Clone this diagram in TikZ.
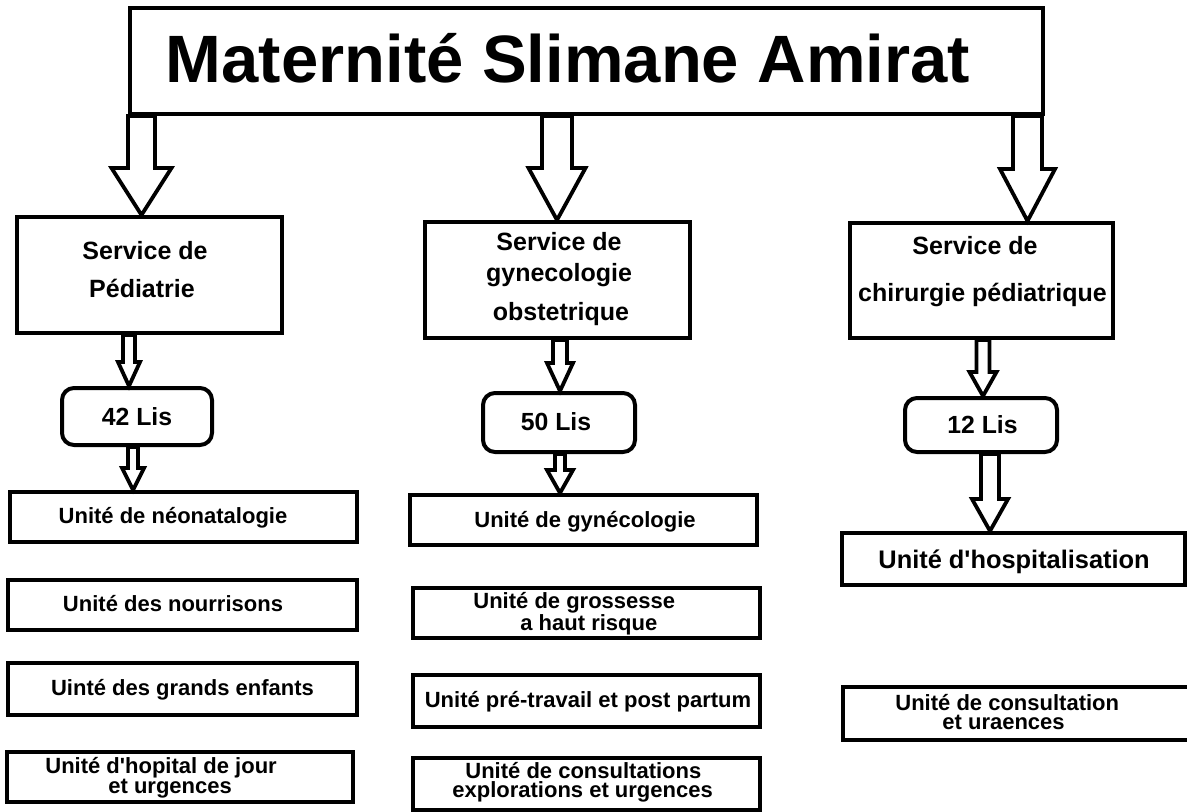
\documentclass[tikz,border=0pt]{standalone}
\usepackage{fontspec}
\setmainfont{Liberation Sans}
\newfontfamily\arl{Liberation Sans}
\usetikzlibrary{calc}
\tikzset{
  box/.style={draw, line width=2pt, inner sep=0pt, fill=white},
  lisbox/.style={box, rounded corners=6pt},
  arrowline/.style={draw, fill=white, line width=1.9pt},
  titletxt/.style={inner sep=0pt, anchor=base, font=\arl\bfseries\fontsize{33.5}{36}\selectfont},
  svctxt/.style={inner sep=0pt, anchor=base, font=\arl\bfseries\fontsize{12.5}{14}\selectfont},
  listxt/.style={inner sep=0pt, anchor=base, font=\arl\bfseries\fontsize{12.4}{14}\selectfont},
  utxt/.style={inner sep=0pt, anchor=base, font=\arl\bfseries\fontsize{11}{12}\selectfont},
  utxtl/.style={utxt, anchor=base west},
  bigutxt/.style={inner sep=0pt, anchor=base west, font=\arl\bfseries\fontsize{12.7}{14}\selectfont},
}
% box: style, name, centre x, centre y, width, height (pixels)
\newcommand\mkbox[6]{\node[#1, minimum width=#5*0.5pt, minimum height=#6*0.5pt] (#2) at (#3,#4) {};}
% hollow block arrow: x, from node, to node, shaft half width, head half width, head length (pixels)
\newcommand\blockarrow[6]{%
  \draw[arrowline] let \p1=(#2.south), \p2=(#3.north), \p3=(#1,0) in
    (\x3-#4*0.5pt,\y1) -- (\x3+#4*0.5pt,\y1) -- (\x3+#4*0.5pt,\y2+#6*0.5pt)
    -- (\x3+#5*0.5pt,\y2+#6*0.5pt) -- (\x3,\y2) -- (\x3-#5*0.5pt,\y2+#6*0.5pt)
    -- (\x3-#4*0.5pt,\y2+#6*0.5pt) -- cycle;}
\begin{document}
\begin{tikzpicture}[x=0.5pt, y=-0.5pt]
\useasboundingbox[fill=white] (0,0) rectangle (1187,812);

% boxes
\mkbox{box}{top}{586.5}{61}{913}{106}
\mkbox{box}{svcL}{149.5}{275}{265}{116}
\mkbox{box}{svcM}{557.5}{280}{265}{116}
\mkbox{box}{svcR}{981.5}{280.5}{263}{115}
\mkbox{lisbox}{lisL}{137}{416.5}{150}{57}
\mkbox{lisbox}{lisM}{559}{422.5}{152}{59}
\mkbox{lisbox}{lisR}{981}{425}{152}{54}
\mkbox{box}{uL1}{183.5}{517}{347}{50}
\mkbox{box}{uL2}{182.5}{605}{349}{50}
\mkbox{box}{uL3}{182.5}{689}{349}{52}
\mkbox{box}{uL4}{180}{777}{346}{50}
\mkbox{box}{uM1}{583.5}{520}{347}{50}
\mkbox{box}{uM2}{586.5}{613}{347}{50}
\mkbox{box}{uM3}{586.5}{701}{347}{52}
\mkbox{box}{uM4}{586.5}{784}{347}{52}
\mkbox{box}{uR1}{1013.5}{559}{343}{52}
\mkbox{box}{uR2}{1017.5}{713.5}{349}{53}

% arrows
\blockarrow{141.5}{top}{svcL}{13.5}{30}{47}
\blockarrow{557}{top}{svcM}{15}{28.5}{52}
\blockarrow{1027.5}{top}{svcR}{14.5}{27.5}{52}
\blockarrow{129}{svcL}{lisL}{6}{11}{24}
\blockarrow{133}{lisL}{uL1}{5}{11}{22}
\blockarrow{560}{svcM}{lisM}{7}{13}{28}
\blockarrow{560}{lisM}{uM1}{5}{13}{23}
\blockarrow{983}{svcR}{lisR}{6.5}{13.5}{24}
\blockarrow{990}{lisR}{uR1}{9}{18}{32}

% texts
\node[titletxt] (tTop) at (568,83) {Maternité Slimane Amirat};

\node[svctxt] (tL1a) at (145,260) {Service de};
\node[svctxt] (tL1b) at (142,298) {Pédiatrie};
\node[svctxt] (tM1a) at (559,251) {Service de};
\node[svctxt] (tM1b) at (559,282) {gynecologie};
\node[svctxt] (tM1c) at (561,321) {obstetrique};
\node[svctxt] (tR1a) at (975,255) {Service de};
\node[svctxt] (tR1b) at (982.5,302) {chirurgie pédiatrique};

\node[listxt] (tLisL) at (137,425) {42 Lis};
\node[listxt] (tLisM) at (556,430) {50 Lis};
\node[listxt] (tLisR) at (982.5,433) {12 Lis};

\node[utxt] (tuL1) at (173,523) {Unité de néonatalogie};
\node[utxt] (tuL2) at (173,611) {Unité des nourrisons};
\node[utxt] (tuL3) at (182.5,695) {Uinté des grands enfants};
\node[utxtl] (tuL4a) at (45,773) {Unité d'hopital de jour};
\node[utxtl] (tuL4b) at (108,793) {et urgences};

\node[utxt] (tuM1) at (585,527) {Unité de gynécologie};
\node[utxtl] (tuM2a) at (473,608) {Unité de grossesse};
\node[utxtl] (tuM2b) at (520,630) {a haut risque};
\node[utxt] (tuM3) at (588,707) {Unité pré-travail et post partum};
\node[utxtl] (tuM4a) at (465,778) {Unité de consultations};
\node[utxtl] (tuM4b) at (452,797) {explorations et urgences};

\node[bigutxt] (tuR1) at (878,568) {Unité d'hospitalisation};
\node[utxtl] (tuR2a) at (895,710) {Unité de consultation};
\node[utxtl] (tuR2b) at (942,729) {et uraences};
\end{tikzpicture}
\end{document}
